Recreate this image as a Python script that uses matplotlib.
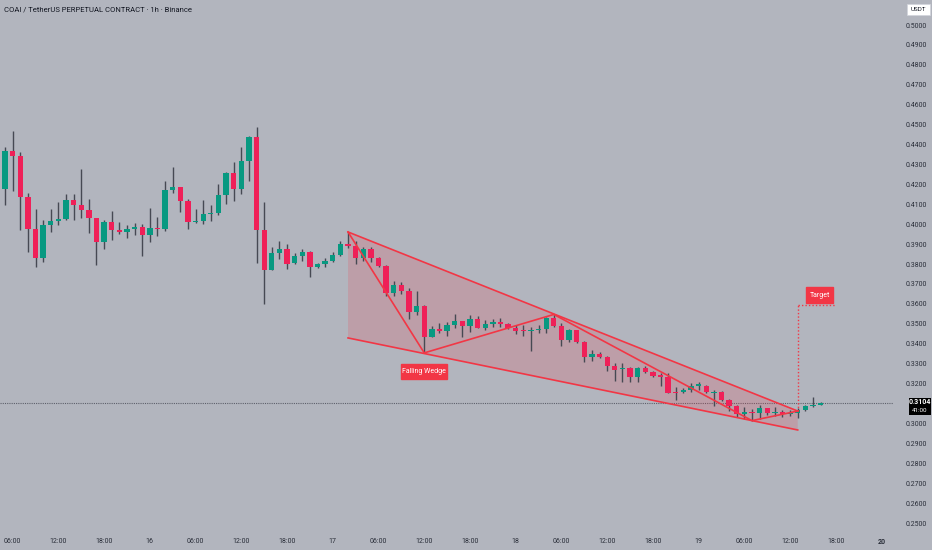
import matplotlib
matplotlib.use('Agg')
import matplotlib.pyplot as plt
from matplotlib.patches import Rectangle

# hourly candles, COAI/USDT 1h, 15th 05:00 -> 19th 16:00
opens = [0.4177, 0.4369, 0.4344, 0.4138, 0.3974, 0.3830, 0.3996, 0.4016, 0.4028, 0.4122,
         0.4095, 0.4071, 0.4030, 0.3912, 0.4011, 0.3970, 0.3963, 0.3977, 0.3987, 0.3946,
         0.3982, 0.3974, 0.4172, 0.4186, 0.4115, 0.4011, 0.4014, 0.4050, 0.4058, 0.4148,
         0.4259, 0.4177, 0.4317, 0.4439, 0.3971, 0.3770, 0.3854, 0.3877, 0.3804, 0.3842,
         0.3862, 0.3784, 0.3800, 0.3817, 0.3845, 0.3899, 0.3892, 0.3829, 0.3874, 0.3829,
         0.3792, 0.3656, 0.3695, 0.3667, 0.3561, 0.3589, 0.3435, 0.3474, 0.3462, 0.3494,
         0.3514, 0.3489, 0.3524, 0.3481, 0.3499, 0.3509, 0.3499, 0.3478, 0.3470, 0.3464,
         0.3470, 0.3476, 0.3528, 0.3489, 0.3419, 0.3469, 0.3410, 0.3332, 0.3348, 0.3334,
         0.3290, 0.3272, 0.3278, 0.3231, 0.3280, 0.3258, 0.3243, 0.3235, 0.3159, 0.3156,
         0.3166, 0.3189, 0.3189, 0.3154, 0.3159, 0.3117, 0.3089, 0.3047, 0.3059, 0.3050,
         0.3076, 0.3050, 0.3056, 0.3047, 0.3050, 0.3067, 0.3089, 0.3094]
highs = [0.4388, 0.4468, 0.4364, 0.4157, 0.4076, 0.4021, 0.4076, 0.4113, 0.4152, 0.4152,
         0.4275, 0.4125, 0.4032, 0.4019, 0.4066, 0.4009, 0.3996, 0.4005, 0.4000, 0.4080,
         0.4035, 0.4217, 0.4288, 0.4189, 0.4128, 0.4075, 0.4122, 0.4096, 0.4200, 0.4264,
         0.4312, 0.4386, 0.4442, 0.4489, 0.4110, 0.3887, 0.3916, 0.3901, 0.3855, 0.3874,
         0.3867, 0.3807, 0.3832, 0.3860, 0.3917, 0.3962, 0.3917, 0.3884, 0.3884, 0.3834,
         0.3795, 0.3715, 0.3711, 0.3678, 0.3665, 0.3594, 0.3489, 0.3506, 0.3511, 0.3549,
         0.3516, 0.3544, 0.3541, 0.3519, 0.3524, 0.3528, 0.3506, 0.3496, 0.3496, 0.3484,
         0.3496, 0.3533, 0.3549, 0.3502, 0.3472, 0.3470, 0.3414, 0.3368, 0.3360, 0.3337,
         0.3305, 0.3302, 0.3284, 0.3282, 0.3286, 0.3265, 0.3251, 0.3251, 0.3184, 0.3176,
         0.3201, 0.3206, 0.3192, 0.3168, 0.3163, 0.3122, 0.3092, 0.3081, 0.3072, 0.3092,
         0.3076, 0.3084, 0.3067, 0.3069, 0.3076, 0.3092, 0.3131, 0.3106]
lows = [0.4096, 0.4167, 0.3971, 0.3860, 0.3785, 0.3810, 0.3962, 0.3996, 0.4021, 0.4021,
        0.4033, 0.3957, 0.3795, 0.3874, 0.3921, 0.3951, 0.3932, 0.3946, 0.3842, 0.3912,
        0.3942, 0.3966, 0.4155, 0.4063, 0.3977, 0.4008, 0.4001, 0.4018, 0.4048, 0.4101,
        0.4118, 0.4152, 0.4218, 0.3804, 0.3599, 0.3770, 0.3824, 0.3775, 0.3800, 0.3817,
        0.3737, 0.3778, 0.3787, 0.3809, 0.3840, 0.3882, 0.3799, 0.3817, 0.3810, 0.3787,
        0.3640, 0.3640, 0.3650, 0.3523, 0.3544, 0.3354, 0.3435, 0.3453, 0.3440, 0.3477,
        0.3435, 0.3460, 0.3477, 0.3469, 0.3486, 0.3482, 0.3472, 0.3447, 0.3440, 0.3365,
        0.3455, 0.3455, 0.3486, 0.3389, 0.3410, 0.3405, 0.3307, 0.3313, 0.3327, 0.3263,
        0.3213, 0.3206, 0.3206, 0.3206, 0.3255, 0.3231, 0.3188, 0.3151, 0.3117, 0.3151,
        0.3159, 0.3168, 0.3154, 0.3086, 0.3112, 0.3062, 0.3034, 0.3024, 0.3014, 0.3021,
        0.3042, 0.3037, 0.3034, 0.3037, 0.3026, 0.3062, 0.3081, 0.3092]
closes = [0.4369, 0.4344, 0.4138, 0.3974, 0.3830, 0.3996, 0.4016, 0.4028, 0.4122, 0.4095,
          0.4071, 0.4030, 0.3912, 0.4011, 0.3970, 0.3963, 0.3977, 0.3987, 0.3946, 0.3982,
          0.3974, 0.4172, 0.4186, 0.4115, 0.4011, 0.4014, 0.4050, 0.4058, 0.4148, 0.4259,
          0.4177, 0.4317, 0.4439, 0.3971, 0.3770, 0.3854, 0.3877, 0.3800, 0.3842, 0.3862,
          0.3784, 0.3800, 0.3817, 0.3845, 0.3899, 0.3892, 0.3829, 0.3874, 0.3829, 0.3792,
          0.3656, 0.3695, 0.3667, 0.3561, 0.3589, 0.3435, 0.3474, 0.3462, 0.3494, 0.3514,
          0.3489, 0.3524, 0.3481, 0.3499, 0.3509, 0.3499, 0.3478, 0.3465, 0.3464, 0.3470,
          0.3476, 0.3528, 0.3489, 0.3419, 0.3469, 0.3410, 0.3332, 0.3348, 0.3332, 0.3290,
          0.3268, 0.3278, 0.3231, 0.3280, 0.3258, 0.3240, 0.3235, 0.3154, 0.3154, 0.3168,
          0.3189, 0.3196, 0.3159, 0.3159, 0.3117, 0.3089, 0.3047, 0.3059, 0.3052, 0.3076,
          0.3050, 0.3056, 0.3045, 0.3050, 0.3067, 0.3089, 0.3094, 0.3104]

time_ticks = [1, 7, 13, 19, 25, 31, 37, 43, 49, 55, 61, 67, 73, 79, 85, 91, 97, 103, 109, 115]
time_labels = ['06:00', '12:00', '18:00', '16', '06:00', '12:00', '18:00', '17', '06:00', '12:00',
               '18:00', '18', '06:00', '12:00', '18:00', '19', '06:00', '12:00', '18:00', '20']
price_ticks = [0.25, 0.26, 0.27, 0.28, 0.29, 0.30, 0.32, 0.33, 0.34, 0.35, 0.36, 0.37,
               0.38, 0.39, 0.40, 0.41, 0.42, 0.43, 0.44, 0.45, 0.46, 0.47, 0.48, 0.49, 0.50]

# falling wedge drawing (bar index, price)
wedge_upper_x = [45, 104]
wedge_upper_y = [0.3961, 0.3062]
wedge_lower_x = [45, 104]
wedge_lower_y = [0.3429, 0.2967]
zigzag_x = [45, 55, 72, 98, 104]
zigzag_y = [0.3961, 0.3354, 0.3547, 0.3014, 0.3062]
target_price = 0.3595
last_price = 0.3104

BG = '#b2b5be'
UP = '#089981'
DOWN = '#ef2058'
WICK = '#464953'
DRAW = '#f23645'
TXT = '#2a2e39'
FONT = ['Liberation Sans Narrow', 'Roboto', 'DejaVu Sans']


def main():
    plt.rcParams['font.family'] = FONT
    fig = plt.figure(figsize=(9.32, 5.5), dpi=100)
    fig.patch.set_facecolor(BG)
    ax = fig.add_axes([0, 20 / 550, 893 / 932, 530 / 550])
    ax.set_facecolor(BG)
    for s in ax.spines.values():
        s.set_visible(False)

    # candles
    idx = list(range(len(opens)))
    for i in idx:
        o, h, l, c = opens[i], highs[i], lows[i], closes[i]
        col = UP if c >= o else DOWN
        ax.vlines(i, l, h, color=WICK, lw=1, zorder=3)
        ax.bar(i, max(abs(c - o), 0.0005), bottom=min(o, c), width=0.7,
               color=col, zorder=4, linewidth=0)

    # wedge
    ax.fill([wedge_upper_x[0], wedge_upper_x[1], wedge_lower_x[1], wedge_lower_x[0]],
            [wedge_upper_y[0], wedge_upper_y[1], wedge_lower_y[1], wedge_lower_y[0]],
            color=DRAW, alpha=0.18, lw=0, zorder=2)
    ax.plot(wedge_upper_x, wedge_upper_y, color=DRAW, lw=1.2, zorder=5)
    ax.plot(wedge_lower_x, wedge_lower_y, color=DRAW, lw=1.2, zorder=5)
    ax.plot(zigzag_x, zigzag_y, color=DRAW, lw=1.2, zorder=5)

    # falling wedge label
    ax.add_patch(Rectangle((51.9, 0.3221), 6.15, 0.0077, color=DRAW, zorder=6))
    ax.text(54.97, 0.32595, 'Falling Wedge', color='white', fontsize=5,
            ha='center', va='center', zorder=7)

    # target
    ax.plot([104, 104], [0.3062, target_price], color=DRAW, lw=1, ls=(0, (1, 1.5)), zorder=5)
    ax.plot([104, 108.9], [target_price, target_price], color=DRAW, lw=1, ls=(0, (1, 1.5)), zorder=5)
    ax.add_patch(Rectangle((105.1, 0.3606), 3.55, 0.0077, color=DRAW, zorder=6))
    ax.text(106.87, 0.36445, 'Target', color='white', fontsize=5,
            ha='center', va='center', zorder=7)

    # last price line
    ax.axhline(last_price, color='#5d606b', lw=0.8, ls=(0, (1, 1)), zorder=1)

    ax.set_xlim(-0.66, 116.5)
    ax.set_ylim(0.24649, 0.51255)
    ax.set_xticks(time_ticks)
    ax.set_xticklabels(time_labels)
    ax.get_xticklabels()[-1].set_fontweight('bold')
    ax.yaxis.tick_right()
    ax.set_yticks(price_ticks)
    ax.set_yticklabels(['%.4f' % p for p in price_ticks])
    ax.tick_params(axis='x', length=0, pad=6, labelsize=5, labelcolor=TXT)
    ax.tick_params(axis='y', length=0, pad=9, labelsize=5, labelcolor=TXT)

    # overlay for header / price scale widgets, in pixels
    ov = fig.add_axes([0, 0, 1, 1])
    ov.set_xlim(0, 932)
    ov.set_ylim(550, 0)
    ov.axis('off')
    ov.patch.set_alpha(0)
    ov.text(4, 10, 'COAI / TetherUS PERPETUAL CONTRACT · 1h · Binance',
            fontsize=5.5, color='#131722', va='center', ha='left')
    ov.add_patch(Rectangle((907, 3.5), 23, 11.5, facecolor='white', edgecolor='#d1d4dc', lw=0.5))
    ov.text(918.5, 9.3, 'USDT', fontsize=4.5, color='#131722', ha='center', va='center')
    ov.add_patch(Rectangle((909, 397.5), 21.5, 17, facecolor='black', lw=0))
    ov.text(919.7, 402.5, '0.3104', fontsize=5, color='white', fontweight='bold',
            ha='center', va='center')
    ov.text(919.7, 410, '41:00', fontsize=4.5, color='white', ha='center', va='center')

    plt.savefig('out.png', dpi=100, facecolor=BG)


if __name__ == '__main__':
    main()
